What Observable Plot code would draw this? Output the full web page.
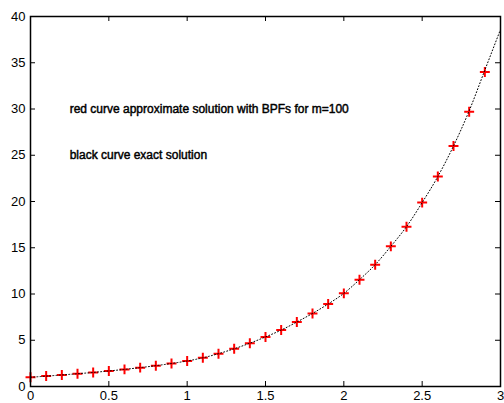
<!DOCTYPE html>
<html>
<head>
<meta charset="utf-8">
<script src="https://cdn.jsdelivr.net/npm/d3@7"></script>
<script src="https://cdn.jsdelivr.net/npm/@observablehq/plot@0.6"></script>
<style>
  html, body { margin: 0; padding: 0; background: #fff; }
</style>
</head>
<body>
<div id="chart"></div>
<script>
// Sample points (t) and approximate solution (red +)
const tValues = [0, 0.1, 0.2, 0.3, 0.4, 0.5, 0.6, 0.7, 0.8, 0.9,
                 1.0, 1.1, 1.2, 1.3, 1.4, 1.5, 1.6, 1.7, 1.8, 1.9,
                 2.0, 2.1, 2.2, 2.3, 2.4, 2.5, 2.6, 2.7, 2.8, 2.9];
const approxValues = [1.0, 1.13, 1.25, 1.38, 1.52, 1.68, 1.85, 2.04, 2.25, 2.49,
                      2.76, 3.10, 3.55, 4.08, 4.68, 5.36, 6.10, 6.97, 7.90, 8.92,
                      10.07, 11.55, 13.17, 15.15, 17.28, 19.88, 22.7, 26.0, 29.7, 34.0];
// Exact solution (black dotted curve)
const exactT = [0, 0.1, 0.2, 0.3, 0.4, 0.5, 0.6, 0.7, 0.8, 0.9,
                1.0, 1.1, 1.2, 1.3, 1.4, 1.5, 1.6, 1.7, 1.8, 1.9,
                2.0, 2.1, 2.2, 2.3, 2.4, 2.5, 2.6, 2.7, 2.8, 2.9, 3.0];
const exactValues = [1.0, 1.12, 1.25, 1.38, 1.52, 1.68, 1.85, 2.04, 2.25, 2.49,
                     2.76, 3.10, 3.55, 4.08, 4.68, 5.36, 6.10, 6.97, 7.90, 8.92,
                     10.07, 11.55, 13.17, 15.15, 17.28, 19.88, 22.7, 26.0, 29.8, 34.2, 38.6];
// Axis ticks
const xTicks = [0, 0.5, 1, 1.5, 2, 2.5, 3];
const yTicks = [0, 5, 10, 15, 20, 25, 30, 35, 40];
// Annotations
const notes = [
  {x: 0.25, y: 30, label: "red curve approximate solution with BPFs for m=100"},
  {x: 0.25, y: 25, label: "black curve exact solution"}
];

const approx = tValues.map((t, i) => ({t, v: approxValues[i]}));
const exact = exactT.map((t, i) => ({t, v: exactValues[i]}));

const W = 504, H = 403, mL = 30, mR = 4, mT = 16, mB = 17;
const plotW = W - mL - mR, plotH = H - mT - mB, tick = 5;

const chart = Plot.plot({
  width: W,
  height: H,
  marginLeft: mL,
  marginRight: mR,
  marginTop: mT,
  marginBottom: mB,
  x: {domain: [0, 3]},
  y: {domain: [0, 40]},
  style: {fontFamily: "'Liberation Sans', Arial, sans-serif", fontSize: "13px", background: "#fff", color: "#000"},
  marks: [
    Plot.axisX(xTicks, {tickSize: 0, tickPadding: 4, fontSize: 13, tickFormat: d => String(d)}),
    Plot.axisY(yTicks, {tickSize: 0, tickPadding: 5, fontSize: 13, tickFormat: d => String(d)}),
    // inward ticks on all four sides
    Plot.tickX(xTicks, {x: d => d, insetTop: plotH - tick, stroke: "#000", strokeWidth: 1}),
    Plot.tickX(xTicks, {x: d => d, insetBottom: plotH - tick, stroke: "#000", strokeWidth: 1}),
    Plot.tickY(yTicks, {y: d => d, insetRight: plotW - tick, stroke: "#000", strokeWidth: 1}),
    Plot.tickY(yTicks, {y: d => d, insetLeft: plotW - tick, stroke: "#000", strokeWidth: 1}),
    Plot.dot(approx, {x: "t", y: "v", symbol: "plus", r: 3.3, stroke: "#ff0000", strokeWidth: 2}),
    Plot.line(exact, {x: "t", y: "v", curve: "monotone-x", stroke: "#000", strokeWidth: 1, strokeDasharray: "1,2.2"}),
    Plot.text(notes, {x: "x", y: "y", text: "label", textAnchor: "start", lineAnchor: "middle",
      fontSize: 12, fill: "#000", stroke: "#000", strokeWidth: 0.45}),
    Plot.frame({stroke: "#000", strokeWidth: 1.5})
  ]
});
document.getElementById("chart").appendChild(chart);
</script>
</body>
</html>
